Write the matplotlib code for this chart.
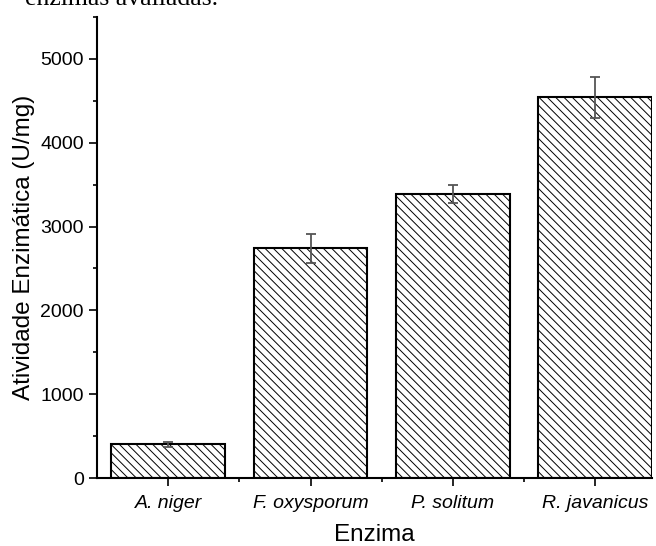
import numpy as np
import matplotlib
matplotlib.use("Agg")
import matplotlib.pyplot as plt
from matplotlib.ticker import MultipleLocator, FixedLocator

# ── data ────────────────────────────────────────────────────────────────────
enzymes  = ["A. niger", "F. oxysporum", "P. solitum", "R. javanicus"]
activity = [400, 2740, 3385, 4540]
error    = [35, 170, 110, 245]

plt.rcParams["font.family"] = ["Liberation Sans", "DejaVu Sans"]
plt.rcParams["hatch.linewidth"] = 0.7

fig = plt.figure(figsize=(6.56, 5.46), dpi=100)
ax = fig.add_axes([0.148, 0.1245, 0.846, 0.8445])

x = np.arange(len(enzymes))
ax.bar(x, activity, width=0.8, color="white", edgecolor="black",
       linewidth=1.5, hatch="\\\\\\\\")
ax.errorbar(x, activity, yerr=error, fmt="none", ecolor="#555555",
            elinewidth=1.3, capsize=3.5, capthick=1.3)

ax.set_xlim(-0.5, 3.4)
ax.set_ylim(0, 5500)
ax.set_xticks(x)
ax.set_xticklabels(enzymes, fontstyle="italic")
ax.xaxis.set_minor_locator(FixedLocator([0.5, 1.5, 2.5]))
ax.yaxis.set_major_locator(MultipleLocator(1000))
ax.yaxis.set_minor_locator(MultipleLocator(500))
ax.tick_params(axis="both", which="major", direction="out", length=6,
               width=1.2, labelsize=14)
ax.tick_params(axis="x", which="major", pad=6)
ax.tick_params(axis="both", which="minor", direction="out", length=3, width=1.2)

for side in ["top", "right"]:
    ax.spines[side].set_visible(False)
for side in ["left", "bottom"]:
    ax.spines[side].set_linewidth(1.5)

ax.set_xlabel("Enzima", fontsize=17.5, labelpad=9)
ax.set_ylabel("Atividade Enzimática (U/mg)", fontsize=17.5, labelpad=4)

# caption fragment cut off at the top of the image
fig.text(0.038, 1 - 5 / 546, "enzimas avaliadas.", family="Liberation Serif",
         fontsize=18.5, va="baseline", ha="left")

fig.savefig("out.png", dpi=100)
